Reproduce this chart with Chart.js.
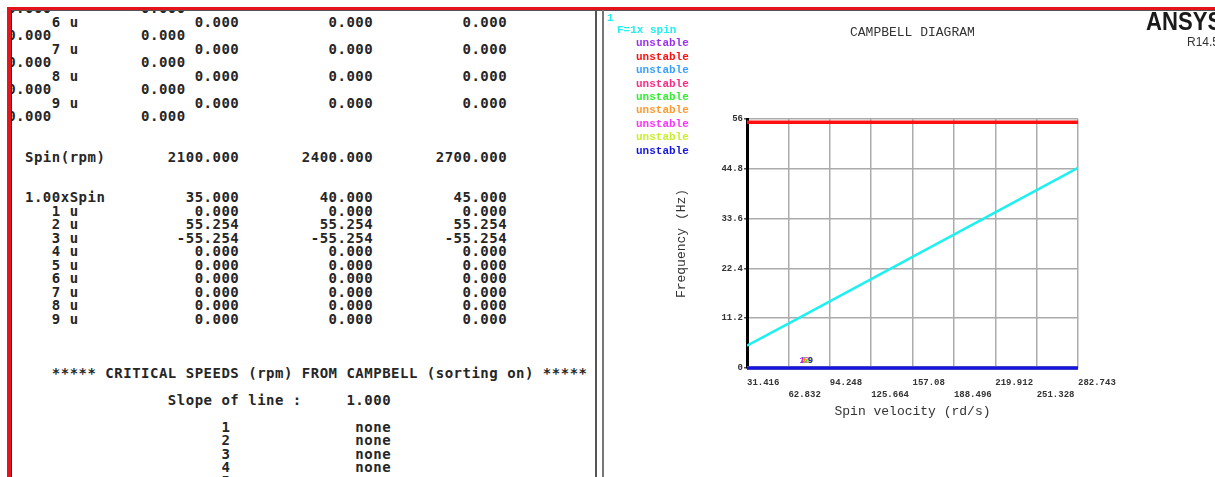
<!DOCTYPE html>
<html><head><meta charset="utf-8">
<script src="https://cdn.jsdelivr.net/npm/chart.js@4.4.1/dist/chart.umd.min.js"></script>
<style>
html,body{margin:0;padding:0;background:#fff;width:1215px;height:477px;overflow:hidden;position:relative}
#console{position:absolute;left:11px;top:11px;width:584px;height:466px;overflow:hidden;background:#fff}
.ln{position:absolute;left:-3.86px;white-space:pre;font:bold 14px/13.5px "DejaVu Sans Mono",monospace;letter-spacing:0.5px;color:#262626}
.bar{position:absolute}
#cv{position:absolute;left:604px;top:11px;width:611px;height:466px}
#ttl{position:absolute;left:850px;top:25px;font:13px/16px "Liberation Mono",monospace;color:#333;white-space:pre}
#ansys{position:absolute;left:1146px;top:6px;font:bold 26px/30px "Liberation Sans",sans-serif;color:#1a1a1a;transform:scaleX(0.85);transform-origin:left top;white-space:pre}
#rel{position:absolute;left:1187px;top:35px;font:12px/14px "Liberation Sans",sans-serif;color:#333;white-space:pre}
</style></head>
<body>
<div id="console"></div>
<canvas id="cv" width="611" height="466"></canvas>
<div id="ttl">CAMPBELL DIAGRAM</div>
<div id="ansys">ANSYS</div>
<div id="rel">R14.5</div>
<div class="bar" style="left:7px;top:7px;width:1208px;height:3px;background:#e3141b"></div>
<div class="bar" style="left:11px;top:10px;width:1204px;height:1px;background:#555"></div>
<div class="bar" style="left:7px;top:7px;width:4px;height:470px;background:#e3141b"></div>
<div class="bar" style="left:11px;top:10px;width:1px;height:467px;background:#333"></div>
<div class="bar" style="left:595px;top:10px;width:2px;height:467px;background:#555"></div>
<div class="bar" style="left:602px;top:10px;width:2px;height:467px;background:#777"></div>
<script>
// ---------- data ----------
const spinRpm = [300, 600, 900, 1200, 1500, 1800, 2100, 2400, 2700];
const spinRad = [31.416, 62.832, 94.248, 125.664, 157.08, 188.496, 219.912, 251.328, 282.743];
const freq1x = [5, 10, 15, 20, 25, 30, 35, 40, 45];
const mode1 = [0, 0, 0, 0, 0, 0, 0, 0, 0];
const mode2 = [55.254, 55.254, 55.254, 55.254, 55.254, 55.254, 55.254, 55.254, 55.254];
const mode3 = [-55.254, -55.254, -55.254, -55.254, -55.254, -55.254, -55.254, -55.254, -55.254];
const mode4 = [0, 0, 0, 0, 0, 0, 0, 0, 0];
const mode5 = [0, 0, 0, 0, 0, 0, 0, 0, 0];
const mode6 = [0, 0, 0, 0, 0, 0, 0, 0, 0];
const mode7 = [0, 0, 0, 0, 0, 0, 0, 0, 0];
const mode8 = [0, 0, 0, 0, 0, 0, 0, 0, 0];
const mode9 = [0, 0, 0, 0, 0, 0, 0, 0, 0];
const modes = [mode1, mode2, mode3, mode4, mode5, mode6, mode7, mode8, mode9];
const modeStatus = ['unstable','unstable','unstable','unstable','unstable','unstable','unstable','unstable','unstable'];
const modeColors = ['#9b30f0','#ff1010','#3aa0ff','#ff2a85','#33ee33','#ff9a30','#ff33ff','#c8f030','#1414e6'];
const spinLineLabel = 'F=1x spin';
const spinLineColor = '#1ef0f0';
const xTicks = [31.416, 62.832, 94.248, 125.664, 157.08, 188.496, 219.912, 251.328, 282.743];
const yTicks = [0, 11.2, 22.4, 33.6, 44.8, 56];
const slopeOfLine = 1.0;
const criticalSpeeds = ['none','none','none','none','none','none','none','none','none'];
const page1Cols = [1, 2, 3, 4, 5];   // spin indices on the previous console page
const page2Cols = [6, 7, 8];         // spin indices on the last console page

// ---------- console text ----------
const W = 66;
function pad(s, n){ while (s.length < n) s += ' '; return s; }
function row(label, vals){
  let s = '  ' + label;
  vals.forEach((v, j) => {
    const end = 26 + j * 15;
    const t = typeof v === 'number' ? v.toFixed(3) : v;
    s = pad(s, end - t.length) + t;
  });
  const out = [];
  for (let i = 0; i < s.length; i += W) out.push(s.slice(i, i + W));
  return out;
}
const lines = [];
lines.push(...row('   5 u', page1Cols.map(c => modes[4][c])).slice(1));
for (let m = 5; m < 9; m++) lines.push(...row('   ' + (m + 1) + ' u', page1Cols.map(c => modes[m][c])));
lines.push('', '');
lines.push(...row('Spin(rpm)', page2Cols.map(c => spinRpm[c])));
lines.push('', '');
lines.push(...row(slopeOfLine.toFixed(2) + 'xSpin', page2Cols.map(c => freq1x[c])));
for (let m = 0; m < 9; m++) lines.push(...row('   ' + (m + 1) + ' u', page2Cols.map(c => modes[m][c])));
lines.push('', '', '');
lines.push('     ***** CRITICAL SPEEDS (rpm) FROM CAMPBELL (sorting on) *****');
lines.push('');
lines.push(pad('', 18) + pad('Slope of line :', 20) + slopeOfLine.toFixed(3));
lines.push('');
criticalSpeeds.forEach((c, i) => lines.push(pad(pad('', 24) + (i + 1), 39) + c));
const con = document.getElementById('console');
lines.forEach((t, i) => {
  const d = document.createElement('div');
  d.className = 'ln';
  d.style.top = (-8.6 + 13.5 * i) + 'px';
  d.textContent = t;
  con.appendChild(d);
});

// ---------- chart ----------
const MONO = '"Liberation Mono", monospace';
const datasets = [{
  label: spinLineLabel, data: spinRad.map((x, i) => ({x, y: freq1x[i]})),
  borderColor: spinLineColor, borderWidth: 2.5, pointRadius: 0, order: 0
}];
modes.forEach((m, k) => datasets.push({
  label: modeStatus[k], data: spinRad.map((x, i) => ({x, y: m[i]})),
  borderColor: modeColors[k], borderWidth: 3.5, pointRadius: 0, order: 10 - k, clip: false
}));

const ansysText = {
  id: 'ansysText',
  afterDraw(chart){
    const ctx = chart.ctx;
    ctx.save();
    ctx.textBaseline = 'middle';
    ctx.textAlign = 'left';
    ctx.font = 'bold 11px ' + MONO;
    ctx.fillStyle = spinLineColor;
    ctx.fillText('1', 3, 7);
    ctx.fillText(spinLineLabel, 13, 19.7);
    modeStatus.forEach((s, k) => {
      ctx.fillStyle = modeColors[k];
      ctx.fillText(s, 32, 32.7 + 13.4 * k);
    });
    // curve number tags near the second spin point
    const xs = chart.scales.x, ys = chart.scales.y;
    ctx.font = 'bold 9px ' + MONO;
    let n = 0;
    modes.forEach((m, k) => {
      const v = m[1];
      if (v < ys.min || v > 1) return;
      ctx.fillStyle = modeColors[k];
      ctx.fillText(String(k + 1), xs.getPixelForValue(spinRad[1]) + 11 + n * 1.4, ys.getPixelForValue(v) - 7);
      n++;
    });
    ctx.restore();
  }
};

new Chart(document.getElementById('cv'), {
  type: 'line',
  data: { datasets },
  plugins: [ansysText],
  options: {
    responsive: false, animation: false, devicePixelRatio: 1,
    layout: { padding: { left: 70, right: 137, top: 108, bottom: 58 } },
    plugins: { legend: { display: false }, tooltip: { enabled: false }, title: { display: false } },
    elements: { line: { tension: 0 } },
    scales: {
      x: {
        type: 'linear', min: xTicks[0], max: xTicks[xTicks.length - 1],
        afterBuildTicks: s => { s.ticks = xTicks.map(v => ({ value: v })); },
        afterFit: s => { s.height = 51; },
        grid: { color: '#ababab', lineWidth: 1.5, drawTicks: false },
        border: { color: '#ababab', width: 1.5 },
        ticks: {
          autoSkip: false, maxRotation: 0, minRotation: 0, align: 'start', padding: 8, color: '#333',
          font: { family: MONO, size: 9, weight: 'bold', lineHeight: 1.4 },
          callback: (v, i) => i % 2 === 0 ? String(xTicks[i]) : ['', String(xTicks[i])]
        },
        title: { display: true, text: 'Spin velocity (rd/s)', color: '#333',
          font: { family: MONO, size: 13, lineHeight: 1.2 }, padding: 0 }
      },
      y: {
        min: yTicks[0], max: yTicks[yTicks.length - 1],
        afterBuildTicks: s => { s.ticks = yTicks.map(v => ({ value: v })); },
        afterFit: s => { s.width = 73; },
        grid: { color: '#ababab', lineWidth: 1.5, drawTicks: true, tickLength: 3, tickColor: '#555' },
        border: { color: '#000', width: 3 },
        ticks: {
          padding: 1, color: '#333',
          font: { family: MONO, size: 9, weight: 'bold' },
          callback: (v, i) => String(yTicks[i])
        },
        title: { display: true, text: 'Frequency (Hz)', color: '#333',
          font: { family: MONO, size: 13, lineHeight: 1.2 }, padding: 0 }
      }
    }
  }
});
</script>
</body></html>
